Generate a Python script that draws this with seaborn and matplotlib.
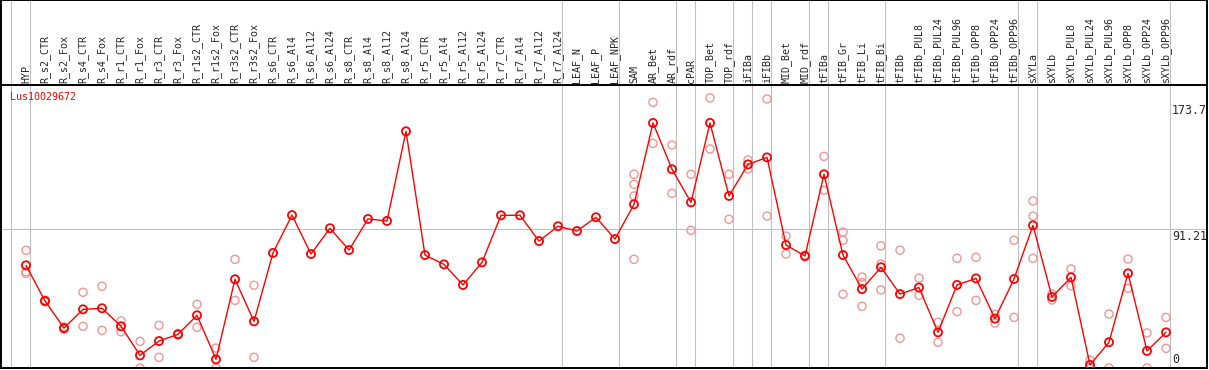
import matplotlib
matplotlib.use("Agg")
import matplotlib.pyplot as plt
import numpy as np
import pandas as pd
import seaborn as sns

# sample names along the x axis
categories = [
    "HYP", "R_s2_CTR", "R_s2_Fox", "R_s4_CTR", "R_s4_Fox", "R_r1_CTR", "R_r1_Fox",
    "R_r3_CTR", "R_r3_Fox", "R_r1s2_CTR", "R_r1s2_Fox", "R_r3s2_CTR", "R_r3s2_Fox",
    "R_s6_CTR", "R_s6_Al4", "R_s6_Al12", "R_s6_Al24", "R_s8_CTR", "R_s8_Al4",
    "R_s8_Al12", "R_s8_Al24", "R_r5_CTR", "R_r5_Al4", "R_r5_Al12", "R_r5_Al24",
    "R_r7_CTR", "R_r7_Al4", "R_r7_Al12", "R_r7_Al24", "LEAF_N", "LEAF_P", "LEAF_NPK",
    "SAM", "AR_Bet", "AR_rdf", "cPAR", "TOP_Bet", "TOP_rdf", "iFIBa", "iFIBb",
    "MID_Bet", "MID_rdf", "tFIBa", "tFIB_Gr", "tFIB_Li", "tFIB_Bi", "tFIBb",
    "tFIBb_PUL8", "tFIBb_PUL24", "tFIBb_PUL96", "tFIBb_OPP8", "tFIBb_OPP24",
    "tFIBb_OPP96", "sXYLa", "sXYLb", "sXYLb_PUL8", "sXYLb_PUL24", "sXYLb_PUL96",
    "sXYLb_OPP8", "sXYLb_OPP24", "sXYLb_OPP96",
]

# mean expression per sample
means = [
    67.4, 44.0, 26.2, 38.5, 39.2, 27.4, 8.3, 17.7, 22.1, 34.6, 5.7, 58.2, 30.6,
    75.5, 100.3, 74.8, 91.7, 77.4, 97.8, 96.5, 155.3, 74.1, 68.0, 54.5, 69.3,
    100.2, 100.2, 83.3, 93.0, 89.9, 98.9, 84.6,
    107.4, 160.8, 130.4, 108.7, 160.8, 112.9, 133.6, 138.2, 80.7, 73.5,
    127.1, 74.1, 51.8, 66.1, 48.5, 52.8, 23.4, 54.5, 58.8, 32.4, 58.4,
    93.6, 46.6, 59.5, 2.0, 16.9, 62.1, 11.2, 23.4,
]

# individual replicates (empty where only one sample exists)
replicates = [
    [77.2, 63.2, 62.0], [44.6, 43.4], [26.9, 25.5], [49.7, 27.4], [53.6, 24.7],
    [30.8, 23.8], [17.5, 0.0], [28.0, 7.0], [22.6, 21.6], [41.8, 26.7],
    [13.1, 0.0], [71.3, 44.4], [54.3, 7.0],
    [], [], [], [], [], [], [], [], [], [], [], [], [], [], [], [], [], [], [],
    [127.1, 120.5, 112.9, 71.3], [174.3, 147.4], [146.3, 114.6], [127.1, 90.3],
    [177.2, 143.7], [127.1, 97.6], [136.5, 130.6], [176.5, 99.7], [86.6, 74.8],
    [74.0, 73.0], [138.9, 116.6], [89.2, 83.8, 48.4], [59.7, 56.0, 40.5],
    [80.1, 68.2, 51.2], [77.3, 19.5], [59.0, 47.7], [30.0, 16.9], [72.0, 37.0],
    [72.6, 44.4], [35.2, 29.5], [83.8, 33.2], [109.6, 99.7, 72.0], [48.6, 44.6],
    [65.0, 54.0], [5.2, 0.0], [35.4, 0.0], [71.5, 52.3], [23.0, 0.0], [33.2, 12.9],
]

# last sample of each group, a separator is drawn after it
group_ends = ["HYP", "R_r7_Al24", "LEAF_NPK", "AR_rdf", "cPAR", "TOP_rdf", "iFIBa",
              "iFIBb", "MID_rdf", "tFIBa", "tFIB_Bi", "tFIBb_OPP96", "sXYLa",
              "sXYLb_OPP96"]
y_marks = [0, 91.21, 173.7]
y_mark_labels = ["0", "91.21", "173.7"]
gene_id = "Lus10029672"

mean_df = pd.DataFrame({"pos": np.arange(len(categories)), "value": means})
rep_df = pd.DataFrame(
    [(i, v) for i, reps in enumerate(replicates) for v in reps],
    columns=["pos", "value"],
)

sns.set_style("white")
plt.rcParams["font.family"] = ["DejaVu Sans Mono", "DejaVu Sans"]

W, H = 1209, 370
fig = plt.figure(figsize=(W / 100, H / 100), dpi=100)
ax = fig.add_axes([1 / W, 2 / H, 1206 / W, 283 / H])
hx = fig.add_axes([1 / W, 285 / H, 1206 / W, 84.6 / H], sharex=ax)

grid_col = "#C0C0C0"
red = "#FF0000"
rep_col = "#F09696"

# separators between sample groups
sep_pos = [-1] + [categories.index(c) for c in group_ends]
for p in sep_pos:
    for a in (ax, hx):
        a.axvline(p + 0.21, color=grid_col, lw=0.8, zorder=0)
ax.axhline(y_marks[1], color=grid_col, lw=0.8, zorder=0)

sns.scatterplot(data=rep_df, x="pos", y="value", ax=ax, marker="o", s=34,
                color=rep_col, facecolor="none", edgecolor=rep_col,
                linewidth=1.0, zorder=2, legend=False)
sns.lineplot(data=mean_df, x="pos", y="value", ax=ax, color=red, lw=1.0,
             sort=False, zorder=3)
sns.scatterplot(data=mean_df, x="pos", y="value", ax=ax, marker="o", s=34,
                color=red, facecolor="none", edgecolor=red,
                linewidth=1.3, zorder=4, legend=False)

ax.set_xlim(-25 / 19, 1181 / 19)
ax.set_ylim(0, 283 / 1.524)
hx.set_ylim(0, 1)

for a in (ax, hx):
    a.set_xticks([])
    a.set_yticks([])
    a.set_xlabel("")
    a.set_ylabel("")
    for sp in a.spines.values():
        sp.set_color("black")
        sp.set_linewidth(1.4)

# sample labels in the header
for i, name in enumerate(categories):
    hx.text(i, 2 / 85, name, rotation=90, ha="center", va="bottom",
            fontsize=7.2, transform=hx.get_xaxis_transform())

# y reference values on the right
xt = ax.get_yaxis_transform()
for v, lab in zip(y_marks, y_mark_labels):
    va = "bottom" if v == 0 else "top"
    ax.text(1171 / 1206, v + (1.5 if v == 0 else -0.5), lab, ha="left", va=va,
            fontsize=8.4, transform=xt)

ax.text(9 / 1206, (368 - 97) / 283, gene_id, color=red, fontsize=7.2,
        ha="left", va="center", transform=ax.transAxes)

fig.savefig("out.png", dpi=100)
